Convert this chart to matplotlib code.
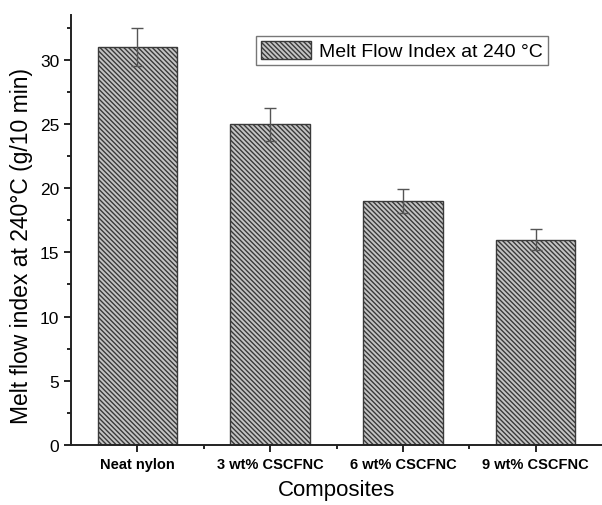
import matplotlib
matplotlib.use('Agg')
import matplotlib.pyplot as plt

# data
categories = ['Neat nylon', '3 wt% CSCFNC', '6 wt% CSCFNC', '9 wt% CSCFNC']
mfi = [31.0, 25.0, 19.0, 16.0]
mfi_err = [1.5, 1.3, 0.95, 0.8]

plt.rcParams['font.family'] = ['Liberation Sans', 'DejaVu Sans']
plt.rcParams['hatch.color'] = '#454545'
plt.rcParams['hatch.linewidth'] = 1.0

fig = plt.figure(figsize=(6.02, 5.06), dpi=100)
ax = fig.add_axes([0.118, 0.119, 0.882, 0.849])

x = range(len(categories))
ax.bar(x, mfi, width=0.6, color='#c4c4c4', edgecolor='#3a3a3a', linewidth=1.0,
       hatch='\\' * 7, label='Melt Flow Index at 240 °C', zorder=2)
ax.errorbar(x, mfi, yerr=mfi_err, fmt='none', ecolor='#555555', elinewidth=1.0,
            capsize=4, capthick=1.0, zorder=3)

ax.set_xlim(-0.5, 3.5)
ax.set_ylim(0, 33.5)
ax.set_yticks([0, 5, 10, 15, 20, 25, 30])
ax.set_yticks([2.5, 7.5, 12.5, 17.5, 22.5, 27.5, 32.5], minor=True)
ax.set_xticks(list(x))
ax.set_xticks([0.5, 1.5, 2.5], minor=True)
ax.set_xticklabels(categories, fontsize=10.5, fontweight='bold')
ax.tick_params(axis='y', labelsize=12.5, width=1.2, length=5)
ax.tick_params(axis='x', width=1.2, length=5)
ax.tick_params(which='minor', width=1.2, length=3)

for s in ['top', 'right']:
    ax.spines[s].set_visible(False)
for s in ['left', 'bottom']:
    ax.spines[s].set_linewidth(1.4)
    ax.spines[s].set_color('#222222')

ax.set_ylabel('Melt flow index at 240°C (g/10 min)', fontsize=16.5)
ax.yaxis.set_label_coords(-0.072, 0.465)
ax.set_xlabel('Composites', fontsize=16, labelpad=6)

leg = ax.legend(loc='upper left', bbox_to_anchor=(0.33, 0.975), fontsize=14,
                frameon=True, fancybox=False, handlelength=2.6, handleheight=1.1,
                borderpad=0.25, handletextpad=0.4)
leg.get_frame().set_edgecolor('#555555')
leg.get_frame().set_linewidth(1.0)

fig.savefig('out.png', dpi=100)
